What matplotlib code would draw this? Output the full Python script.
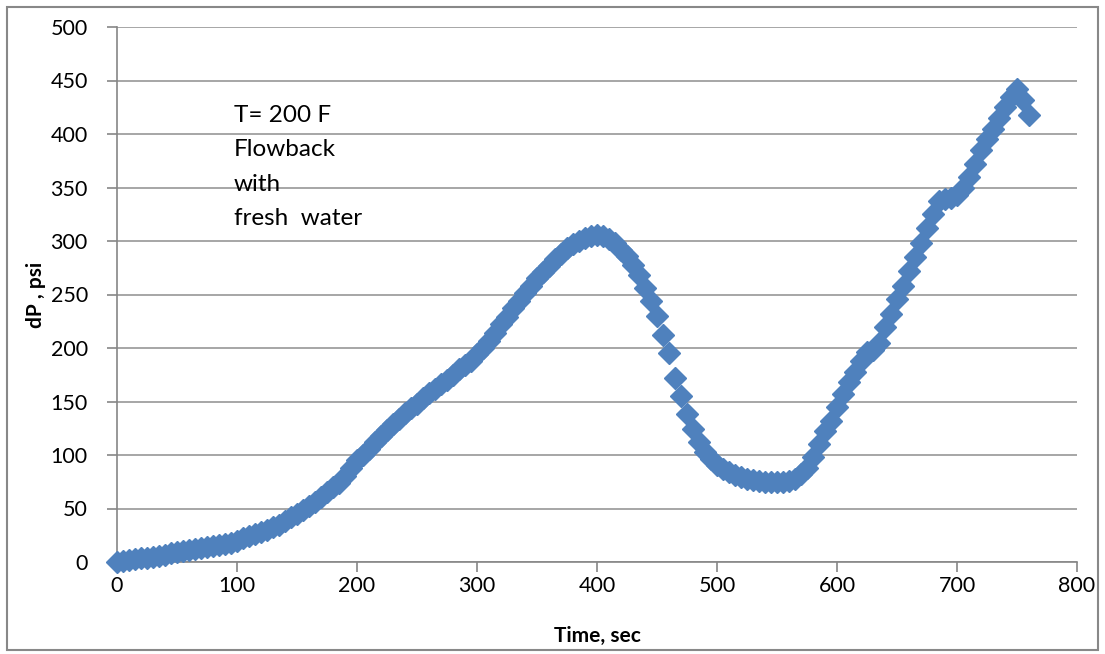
import numpy as np
import matplotlib.pyplot as plt
from matplotlib.patches import Rectangle

# dados (t a cada 5 s)
tempo = list(range(0, 765, 5))
dP = [0, 1, 2, 3, 3.5, 4, 5, 6, 7, 8,
      9, 10, 11, 12, 13, 14, 15, 16, 17, 18,
      20, 22, 24, 26, 28, 30, 33, 35, 38, 42,
      45, 49, 52, 56, 61, 65, 70, 74, 80, 88,
      95, 100, 106, 112, 118, 123, 129, 134, 139, 144,
      148, 153, 158, 162, 166, 170, 175, 180, 184, 188,
      194, 200, 207, 214, 222, 229, 237, 244, 251, 258,
      265, 271, 277, 283, 288, 293, 297, 300, 303, 305,
      306, 305, 302, 298, 292, 286, 278, 268, 256, 244,
      230, 212, 195, 172, 155, 138, 124, 112, 103, 96,
      91, 87, 84, 81, 79, 78, 77, 76, 75, 75,
      75, 75, 76, 78, 82, 88, 98, 110, 122, 132,
      145, 157, 168, 178, 188, 196, 198, 205, 220, 232,
      246, 258, 272, 285, 298, 312, 325, 337, 339, 340,
      343, 350, 360, 372, 385, 395, 405, 415, 425, 435,
      442, 432, 418]

x_ticks = np.arange(0, 801, 100)
y_ticks = np.arange(0, 501, 50)

azul = '#4F81BD'
cinza = '#A6A6A6'

plt.rcParams['font.family'] = ['Lato', 'DejaVu Sans']

fig = plt.figure(figsize=(11.05, 6.54), dpi=100)
ax = fig.add_axes([117/1105, 1 - 562/654, 960/1105, 535/654])

ax.plot(tempo, dP, linestyle='none', marker='D', markersize=11.5,
        color=azul, markeredgecolor=azul, clip_on=False, zorder=3)

ax.set_xlim(0, 800)
ax.set_ylim(0, 500)
ax.set_xticks(x_ticks)
ax.set_yticks(y_ticks)
ax.tick_params(axis='both', labelsize=15.5, colors='#868686', labelcolor='black',
               length=7, width=1.2, direction='out')
ax.tick_params(axis='y', pad=14)
ax.tick_params(axis='x', pad=3)

ax.grid(True, axis='y', color=cinza, linewidth=1.4, zorder=0)
ax.set_axisbelow(True)
for lado in ['top', 'right']:
    ax.spines[lado].set_visible(False)
for lado in ['left', 'bottom']:
    ax.spines[lado].set_color('#868686')
    ax.spines[lado].set_linewidth(1.2)

ax.set_xlabel('Time, sec', fontsize=15, fontweight='bold', labelpad=22)
ax.set_ylabel('dP , psi', fontsize=15, fontweight='bold', labelpad=3)

# caixa de texto (posicao em fracao dos eixos)
ax.text((234 - 117) / 960, (562 - 105) / 535, 'T= 200 F\nFlowback\nwith\nfresh  water',
        transform=ax.transAxes, fontsize=17.5, va='top', ha='left', linespacing=1.78)

# borda do grafico (estilo Excel)
fig.patches.append(Rectangle((7/1105, 4/654), 1091/1105, 643/654, transform=fig.transFigure,
                             fill=False, edgecolor='#888888', linewidth=1.5))

fig.savefig('out.png', dpi=100)
